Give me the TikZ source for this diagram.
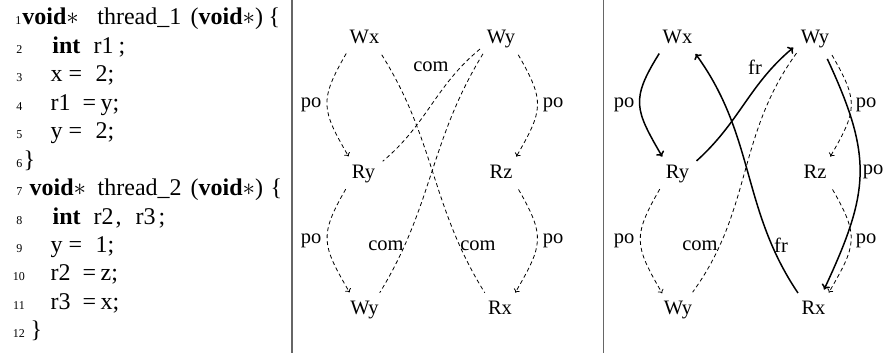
\documentclass[tikz,border=0pt]{standalone}
\usepackage{fontspec}
\setmainfont{Liberation Serif}
\usetikzlibrary{arrows.meta}
% place a token at a fixed horizontal offset inside a code line
\newcommand\tok[2]{\rlap{\hspace*{#1pt}#2}}
\begin{document}
\begin{tikzpicture}[x=1pt,y=1pt,
  vert/.style={circle, inner sep=0pt, minimum size=46pt, text height=14pt,
    text depth=4.5pt, anchor=base, font=\fontsize{20.5}{20.5}\selectfont},
  lbl/.style={inner sep=0pt, anchor=base, font=\fontsize{20.5}{20.5}\selectfont},
  rel/.style={line width=0.8pt, dash pattern=on 4pt off 3pt,
    -{To[length=3.5pt,width=6.5pt]}},
  reln/.style={line width=0.8pt, dash pattern=on 4pt off 3pt},
  hot/.style={line width=1.5pt, -{To[length=5pt,width=9pt]}},
  code/.style={inner sep=0pt, anchor=base west, font=\fontsize{24}{24}\selectfont},
  lno/.style={inner sep=0pt, anchor=base east, font=\fontsize{12}{12}\selectfont},
  sep/.style={line width=1.3pt, black!60},
]
\useasboundingbox (0,0) rectangle (886,353);

% ---------------- code listing ----------------
\node[lno] (n1)  at (21.5,328)   {1};
\node[lno] (n2)  at (22.5,299.6) {2};
\node[lno] (n3)  at (22.5,271.1) {3};
\node[lno] (n4)  at (22.5,242.7) {4};
\node[lno] (n5)  at (22.5,214.2) {5};
\node[lno] (n6)  at (22.5,185.8) {6};
\node[lno] (n7)  at (22.5,157.3) {7};
\node[lno] (n8)  at (22.5,128.9) {8};
\node[lno] (n9)  at (22.5,100.4) {9};
\node[lno] (n10) at (25,72.0)    {10};
\node[lno] (n11) at (25,43.5)    {11};
\node[lno] (n12) at (25,15.1)    {12};

\node[code] (c1) at (0,328) {\tok{21.7}{\textbf{void}$\ast$}\tok{96.7}{thread\_1}\tok{190}{(\textbf{void}$\ast$)}\tok{268}{\{}};
\node[code] (c2) at (0,299.6) {\tok{51.7}{\textbf{int}}\tok{93}{r1}\tok{118}{;}};
\node[code] (c3) at (0,271.1) {\tok{50}{x}\tok{68}{=}\tok{95}{2;}};
\node[code] (c4) at (0,242.7) {\tok{50}{r1}\tok{82}{=}\tok{100}{y;}};
\node[code] (c5) at (0,214.2) {\tok{50}{y}\tok{68}{=}\tok{95}{2;}};
\node[code] (c6) at (0,185.8) {\tok{23}{\}}};
\node[code] (c7) at (0,157.3) {\tok{29}{\textbf{void}$\ast$}\tok{97}{thread\_2}\tok{190}{(\textbf{void}$\ast$)}\tok{270}{\{}};
\node[code] (c8) at (0,128.9) {\tok{52}{\textbf{int}}\tok{93}{r2}\tok{115}{,}\tok{135}{r3}\tok{158}{;}};
\node[code] (c9) at (0,100.4) {\tok{50}{y}\tok{68}{=}\tok{95}{1;}};
\node[code] (c10) at (0,72.0) {\tok{50}{r2}\tok{82}{=}\tok{100}{z;}};
\node[code] (c11) at (0,43.5) {\tok{50}{r3}\tok{82}{=}\tok{100}{x;}};
\node[code] (c12) at (0,15.1) {\tok{30}{\}}};

% ---------------- separators ----------------
\draw[sep] (292,0) -- (292,353);
\draw[sep] (603.8,0) -- (603.8,353);

% ---------------- middle graph ----------------
\node[vert] (WxM) at (364.5,309) {Wx};
\node[vert] (WyM) at (501,309)   {Wy};
\node[vert] (RyM) at (363.5,174) {Ry};
\node[vert] (RzM) at (501,174)   {Rz};
\node[vert] (WbM) at (364.5,38)  {Wy};
\node[vert] (RxM) at (500,38)    {Rx};

\draw[rel] (WxM.218) to[out=240,in=120,looseness=1.35] (RyM.130);
\draw[rel] (WyM.-42) to[out=-60,in=60,looseness=1.35] (RzM.49);
\draw[rel] (RyM.220) to[out=240,in=120,looseness=1.35] (WbM.130);
\draw[rel] (RzM.-41) to[out=-60,in=60,looseness=1.35] (RxM.49);
\draw[reln] (WxM.-42) to[out=-58,in=122] (RxM.131);
\draw[reln] (WyM.205) to[out=219.5,in=40] (RyM.34);
\draw[reln] (WyM.219) to[out=238.5,in=58.5] (WbM.49);

\node[lbl] (l1) at (311,245) {po};
\node[lbl] (l2) at (553,245) {po};
\node[lbl] (l3) at (431,281.3) {com};
\node[lbl] (l4) at (311,109) {po};
\node[lbl] (l5) at (553,109) {po};
\node[lbl] (l6) at (386,102) {com};
\node[lbl] (l7) at (478,102) {com};

% ---------------- right graph ----------------
\node[vert] (WxR) at (677.5,309) {Wx};
\node[vert] (WyR) at (815,309)   {Wy};
\node[vert] (RyR) at (677.5,174) {Ry};
\node[vert] (RzR) at (815,174)   {Rz};
\node[vert] (WbR) at (678,38)    {Wy};
\node[vert] (RxR) at (813.5,38)  {Rx};

\draw[hot] (WxR.218) to[out=238,in=120,looseness=1.35] (RyR.131);
\draw[hot] (RyR.35) to[out=42,in=220] (WyR.201);
\draw[hot] (RxR.132) to[out=124,in=-54] (WxR.-39);
\draw[hot] (WyR.-58) to[out=-65,in=65,looseness=1.2] (RxR.63);
\draw[rel] (WyR.-43) to[out=-60,in=60,looseness=1.35] (RzR.49);
\draw[rel] (RzR.-41) to[out=-60,in=60,looseness=1.35] (RxR.49);
\draw[rel] (RyR.220) to[out=240,in=120,looseness=1.35] (WbR.133);
\draw[reln] (WyR.217) to[out=234,in=54] (WbR.51);

\node[lbl] (r1) at (624,245) {po};
\node[lbl] (r2) at (755,278) {fr};
\node[lbl] (r3) at (866,245) {po};
\node[lbl] (r4) at (873,178) {po};
\node[lbl] (r5) at (624,109) {po};
\node[lbl] (r6) at (700,102) {com};
\node[lbl] (r7) at (781,100) {fr};
\node[lbl] (r8) at (866,109) {po};
\end{tikzpicture}
\end{document}
